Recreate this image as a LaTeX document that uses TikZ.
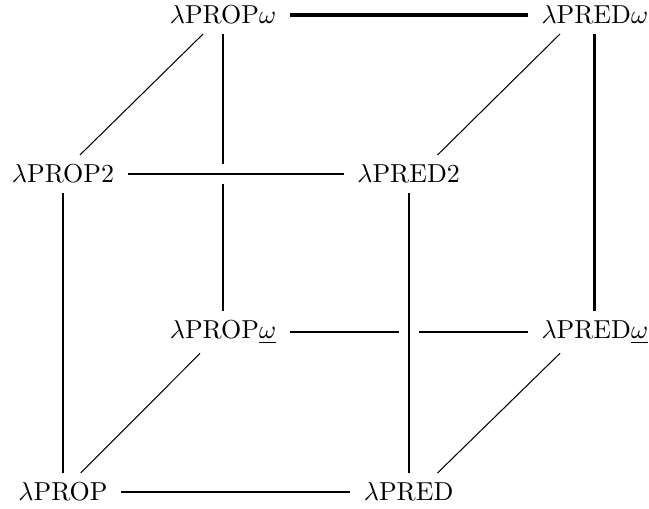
\documentclass[tikz,border=0pt]{standalone}
\begin{document}
\begin{tikzpicture}[every node/.style={inner xsep=5pt,inner ysep=3.5pt},
		side/.style={line width=0.8pt},
		heavy/.style={line width=1.2pt},
		slant/.style={line width=0.4pt}]
			\useasboundingbox (0,0) rectangle (8.783,6.888);
			\node (propw) at (3.018,6.685) {$\lambda$PROP$\omega$};
			\node (predw) at (8.05,6.685) {$\lambda$PRED$\omega$};
			\node (prop2) at (0.853,4.534) {$\lambda$PROP2};
			\node (pred2) at (5.53,4.534) {$\lambda$PRED2};
			\node (propu) at (3.018,2.395) {$\lambda$PROP$\underline{\omega}$};
			\node (predu) at (8.05,2.395) {$\lambda$PRED$\underline{\omega}$};
			\node (prop) at (0.853,0.23) {$\lambda$PROP};
			\node (pred) at (5.53,0.23) {$\lambda$PRED};
			\coordinate (cut1) at (propw |- prop2);
			\coordinate (cut2) at (pred2 |- propu);
			\draw [heavy] (propw) -- (predw);
			\draw [heavy] (predw) -- (predu);
			\draw [side] (prop2) -- (pred2);
			\draw [side] (prop) -- (pred);
			\draw [side] (prop2) -- (prop);
			\draw [side] (pred2) -- (pred);
			\draw [side] (propw) -- ([yshift=0.135cm]cut1);
			\draw [side] ([yshift=-0.135cm]cut1) -- (propu);
			\draw [side] (propu) -- ([xshift=-0.135cm]cut2);
			\draw [side] ([xshift=0.135cm]cut2) -- (predu);
			\draw [slant] ([xshift=0.23cm]prop2.north) -- ([xshift=-0.27cm]propw.south);
			\draw [slant] ([xshift=0.39cm]pred2.north) -- ([xshift=-0.47cm]predw.south);
			\draw [slant] ([xshift=0.24cm]prop.north) -- ([xshift=-0.31cm]propu.south);
			\draw [slant] ([xshift=0.39cm]pred.north) -- ([xshift=-0.47cm]predu.south);
\end{tikzpicture}
\end{document}
